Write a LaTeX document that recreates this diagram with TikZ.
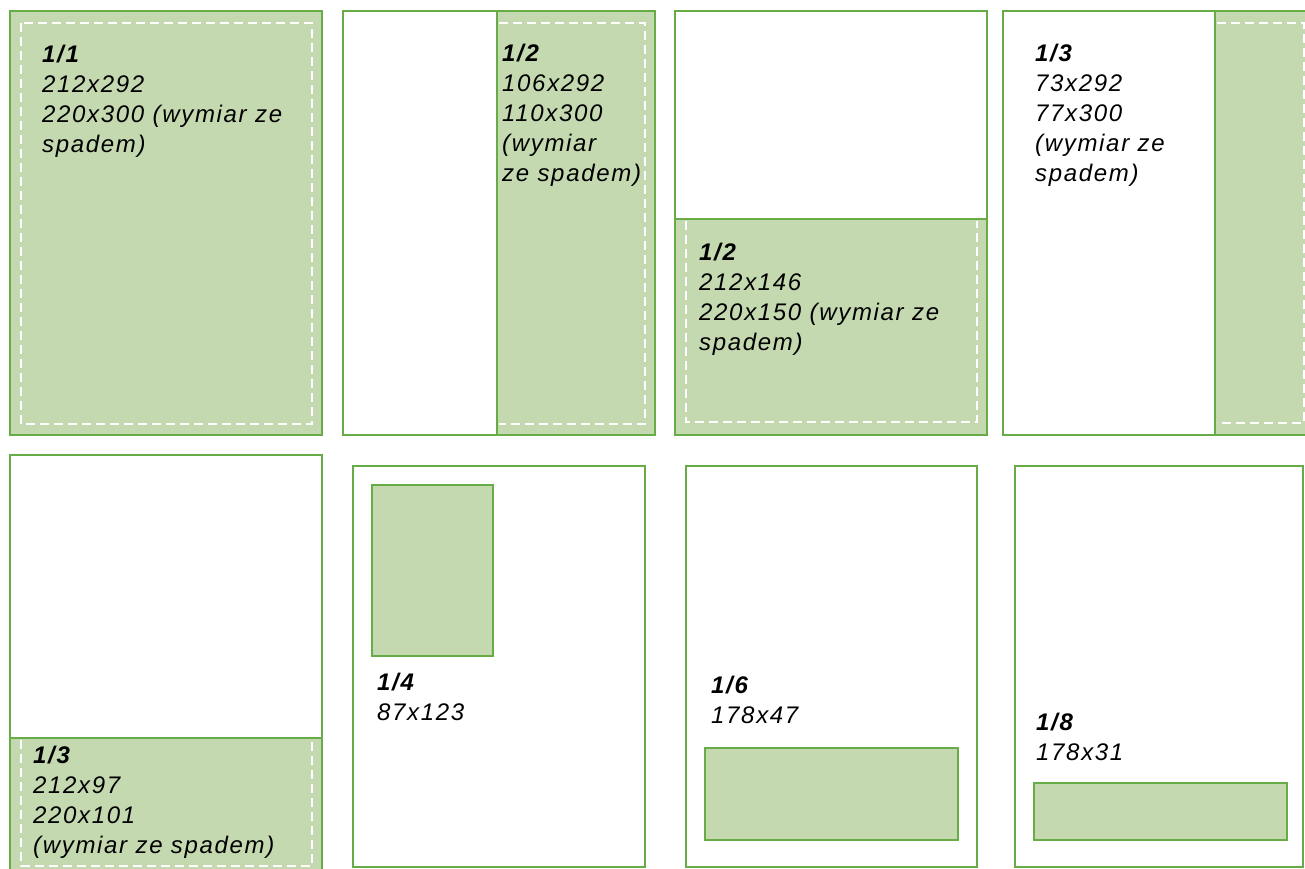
\documentclass[tikz,border=0pt]{standalone}
\usepackage{fontspec}
\setmainfont{Liberation Sans}[LetterSpace=7]
\definecolor{adgreen}{RGB}{104,172,72}
\definecolor{adfill}{RGB}{197,217,177}
\begin{document}
\begin{tikzpicture}[x=1pt, y=-1pt,
  font=\fontsize{24}{30}\selectfont\itshape,
  page/.style={draw=adgreen, line width=2.8pt, fill=white},
  ad/.style={draw=adgreen, line width=2.8pt, fill=adfill},
  bleed/.style={draw=white, line width=2pt, dash pattern=on 9pt off 5pt},
  size/.style={anchor=base west, inner sep=0pt, align=left},
]
  \useasboundingbox (0,0) rectangle (1305,869);
  \clip (0,0) rectangle (1305,869);

  % Top row: full page, half vertical, half horizontal, third vertical
  % (labels anchored at the baseline of their last line)
  \draw[ad] (10,11) rectangle (322,435);
  \draw[bleed] (21,23) rectangle (312,424);
  \node[size] (s11) at (42,153) {\textbf{1/1}\\212x292\\220x300 (wymiar ze\\spadem)};

  \draw[page] (343,11) rectangle (655,435);
  \draw[ad] (497,11) rectangle (655,435);
  \draw[bleed] (499,23) -- (645,23) -- (645,424) -- (499,424);
  \node[size] (s12v) at (502,182) {\textbf{1/2}\\106x292\\110x300\\(wymiar\\ze spadem)};

  \draw[page] (675,11) rectangle (987,435);
  \draw[ad] (675,219) rectangle (987,435);
  \draw[bleed] (686,221) -- (686,422) -- (977,422) -- (977,221);
  \node[size] (s12h) at (699,350) {\textbf{1/2}\\212x146\\220x150 (wymiar ze\\spadem)};

  \draw[page] (1003,11) rectangle (1315,435);
  \draw[ad] (1215,11) rectangle (1315,435);
  \draw[bleed] (1217,23) -- (1304,23) -- (1304,423) -- (1217,423);
  \node[size] (s13v) at (1035,182) {\textbf{1/3}\\73x292\\77x300\\(wymiar ze\\spadem)};

  % Bottom row: third horizontal, quarter, sixth, eighth
  \draw[page] (10,455) rectangle (322,879);
  \draw[ad] (10,738) rectangle (322,879);
  \draw[bleed] (21,740) -- (21,866) -- (312,866) -- (312,740);
  \node[size] (s13h) at (33,853) {\textbf{1/3}\\212x97\\220x101\\(wymiar ze spadem)};

  \draw[page] (353,466) rectangle (645,867);
  \draw[ad] (372,485) rectangle (493,656);
  \node[size] (s14) at (377,720) {\textbf{1/4}\\87x123};

  \draw[page] (686,466) rectangle (977,867);
  \draw[ad] (705,748) rectangle (958,840);
  \node[size] (s16) at (711,723) {\textbf{1/6}\\178x47};

  \draw[page] (1015,466) rectangle (1303,867);
  \draw[ad] (1034,783) rectangle (1287,840);
  \node[size] (s18) at (1036,760) {\textbf{1/8}\\178x31};
\end{tikzpicture}
\end{document}
